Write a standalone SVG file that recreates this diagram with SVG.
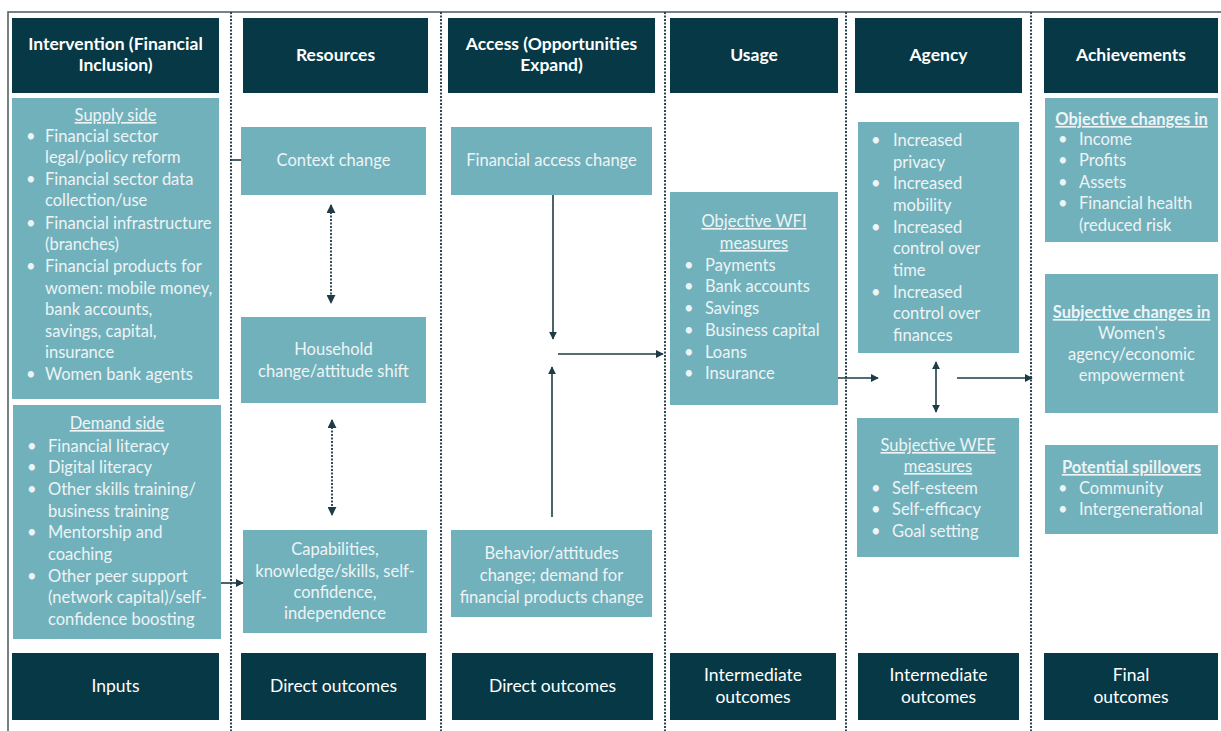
<svg xmlns="http://www.w3.org/2000/svg" width="1221" height="731" viewBox="0 0 1221 731">
<style>
.hd{fill:#063845}
.lt{fill:#71b1bc}
.ht{font-family:Lato,"Liberation Sans",sans-serif;font-size:17.5px;font-weight:bold;fill:#ffffff;text-anchor:middle}
.bt{font-family:Lato,"Liberation Sans",sans-serif;font-size:17.5px;fill:#ffffff;text-anchor:middle}
.tx{font-family:Lato,"Liberation Sans",sans-serif;font-size:16.5px;fill:#eef4f5}
.c{text-anchor:middle}
.u{text-decoration:underline}
.b{font-weight:bold}
.sep{stroke:#2c4651;stroke-width:2;stroke-dasharray:2 1.5;fill:none}
.ar{stroke:#1e3b46;stroke-width:1.6;fill:none}
.dar{stroke:#1e3b46;stroke-width:1.8;stroke-dasharray:2 1.5;fill:none}
</style>
<defs>
<marker id="ah" viewBox="0 0 10 10" refX="9" refY="5" markerWidth="5" markerHeight="5" orient="auto-start-reverse">
<path d="M0,0 L10,5 L0,10 z" fill="#1e3b46"/>
</marker>
</defs>

<g id="frame">
<path d="M8,731 V12 H1221" stroke="#4b5a60" stroke-width="1.5" fill="none"/>
<line class="sep" x1="231" y1="12" x2="231" y2="731"/>
<line class="sep" x1="441" y1="12" x2="441" y2="731"/>
<line class="sep" x1="665" y1="12" x2="665" y2="731"/>
<line class="sep" x1="846" y1="12" x2="846" y2="731"/>
<line class="sep" x1="1031" y1="12" x2="1031" y2="731"/>
</g>

<g id="headers">
<g id="h-intervention"><rect class="hd" x="12" y="18" width="207" height="75"/><text class="ht" x="115.5" y="50">Intervention (Financial</text><text class="ht" x="115.5" y="71">Inclusion)</text></g>
<g id="h-resources"><rect class="hd" x="243" y="18" width="185" height="75"/><text class="ht" x="335.5" y="61">Resources</text></g>
<g id="h-access"><rect class="hd" x="448" y="18" width="207" height="75"/><text class="ht" x="551.5" y="50">Access (Opportunities</text><text class="ht" x="551.5" y="71">Expand)</text></g>
<g id="h-usage"><rect class="hd" x="670" y="18" width="168" height="75"/><text class="ht" x="754" y="61">Usage</text></g>
<g id="h-agency"><rect class="hd" x="855" y="18" width="167" height="75"/><text class="ht" x="938.5" y="61">Agency</text></g>
<g id="h-achievements"><rect class="hd" x="1044" y="18" width="174" height="75"/><text class="ht" x="1131" y="61">Achievements</text></g>
</g>

<g id="footers">
<g id="f-inputs"><rect class="hd" x="12" y="653" width="207" height="67"/><text class="bt" x="115.5" y="692">Inputs</text></g>
<g id="f-direct1"><rect class="hd" x="241" y="653" width="185" height="67"/><text class="bt" x="333.5" y="692">Direct outcomes</text></g>
<g id="f-direct2"><rect class="hd" x="452" y="653" width="201" height="67"/><text class="bt" x="552.5" y="692">Direct outcomes</text></g>
<g id="f-inter1"><rect class="hd" x="670" y="653" width="166" height="67"/><text class="bt" x="753" y="681">Intermediate</text><text class="bt" x="753" y="703">outcomes</text></g>
<g id="f-inter2"><rect class="hd" x="858" y="653" width="161" height="67"/><text class="bt" x="938.5" y="681">Intermediate</text><text class="bt" x="938.5" y="703">outcomes</text></g>
<g id="f-final"><rect class="hd" x="1044" y="653" width="174" height="67"/><text class="bt" x="1131" y="681">Final</text><text class="bt" x="1131" y="703">outcomes</text></g>
</g>

<g id="supply">
<rect class="lt" x="12" y="98" width="207" height="301"/>
<text class="tx c u" x="115.5" y="121">Supply side</text>
<g class="tx">
<text x="26" y="142">•</text><text x="45" y="142">Financial sector</text>
<text x="45" y="163">legal/policy reform</text>
<text x="26" y="185">•</text><text x="45" y="185">Financial sector data</text>
<text x="45" y="206">collection/use</text>
<text x="26" y="229">•</text><text x="45" y="229">Financial infrastructure</text>
<text x="45" y="250">(branches)</text>
<text x="26" y="272">•</text><text x="45" y="272">Financial products for</text>
<text x="45" y="294">women: mobile money,</text>
<text x="45" y="315">bank accounts,</text>
<text x="45" y="337">savings, capital,</text>
<text x="45" y="358">insurance</text>
<text x="26" y="380">•</text><text x="45" y="380">Women bank agents</text>
</g>
</g>

<g id="demand">
<rect class="lt" x="13" y="405" width="208" height="234"/>
<text class="tx c u" x="117" y="429">Demand side</text>
<g class="tx">
<text x="27" y="452">•</text><text x="48" y="452">Financial literacy</text>
<text x="27" y="473">•</text><text x="48" y="473">Digital literacy</text>
<text x="27" y="495">•</text><text x="48" y="495">Other skills training/</text>
<text x="48" y="517">business training</text>
<text x="27" y="538">•</text><text x="48" y="538">Mentorship and</text>
<text x="48" y="560">coaching</text>
<text x="27" y="582">•</text><text x="48" y="582">Other peer support</text>
<text x="48" y="603">(network capital)/self-</text>
<text x="48" y="625">confidence boosting</text>
</g>
</g>

<g id="context">
<rect class="lt" x="241" y="127" width="185" height="68"/>
<text class="tx c" x="333.5" y="166">Context change</text>
</g>
<g id="household">
<rect class="lt" x="241" y="317" width="185" height="86"/>
<text class="tx c" x="333.5" y="355">Household</text>
<text class="tx c" x="333.5" y="377">change/attitude shift</text>
</g>
<g id="capabilities">
<rect class="lt" x="243" y="530" width="184" height="103"/>
<text class="tx c" x="335" y="555">Capabilities,</text>
<text class="tx c" x="335" y="577">knowledge/skills, self-</text>
<text class="tx c" x="335" y="598">confidence,</text>
<text class="tx c" x="335" y="619">independence</text>
</g>

<g id="finaccess">
<rect class="lt" x="451" y="127" width="201" height="68"/>
<text class="tx c" x="551.5" y="166">Financial access change</text>
</g>
<g id="behavior">
<rect class="lt" x="451" y="530" width="201" height="87"/>
<text class="tx c" x="551.5" y="559">Behavior/attitudes</text>
<text class="tx c" x="551.5" y="581">change; demand for</text>
<text class="tx c" x="551.5" y="603">financial products change</text>
</g>

<g id="wfi">
<rect class="lt" x="670" y="192" width="168" height="213"/>
<text class="tx c u" x="754" y="227">Objective WFI</text>
<text class="tx c u" x="754" y="249">measures</text>
<g class="tx">
<text x="684" y="271">•</text><text x="705" y="271">Payments</text>
<text x="684" y="292">•</text><text x="705" y="292">Bank accounts</text>
<text x="684" y="314">•</text><text x="705" y="314">Savings</text>
<text x="684" y="336">•</text><text x="705" y="336">Business capital</text>
<text x="684" y="358">•</text><text x="705" y="358">Loans</text>
<text x="684" y="379">•</text><text x="705" y="379">Insurance</text>
</g>
</g>

<g id="agency">
<rect class="lt" x="858" y="122" width="161" height="231"/>
<g class="tx">
<text x="871" y="146">•</text><text x="893" y="146">Increased</text>
<text x="893" y="168">privacy</text>
<text x="871" y="189">•</text><text x="893" y="189">Increased</text>
<text x="893" y="211">mobility</text>
<text x="871" y="233">•</text><text x="893" y="233">Increased</text>
<text x="893" y="254">control over</text>
<text x="893" y="276">time</text>
<text x="871" y="298">•</text><text x="893" y="298">Increased</text>
<text x="893" y="319">control over</text>
<text x="893" y="341">finances</text>
</g>
</g>

<g id="wee">
<rect class="lt" x="857" y="418" width="162" height="139"/>
<text class="tx c u" x="938" y="451">Subjective WEE</text>
<text class="tx c u" x="938" y="472">measures </text>
<g class="tx">
<text x="871" y="494">•</text><text x="892" y="494">Self-esteem</text>
<text x="871" y="515">•</text><text x="892" y="515">Self-efficacy</text>
<text x="871" y="537">•</text><text x="892" y="537">Goal setting</text>
</g>
</g>

<g id="objchanges">
<rect class="lt" x="1045" y="98" width="173" height="144"/>
<text class="tx c u b" x="1131.5" y="125">Objective changes in</text>
<g class="tx">
<text x="1058" y="145">•</text><text x="1079" y="145">Income</text>
<text x="1058" y="166">•</text><text x="1079" y="166">Profits</text>
<text x="1058" y="188">•</text><text x="1079" y="188">Assets</text>
<text x="1058" y="209">•</text><text x="1079" y="209">Financial health</text>
<text x="1079" y="231">(reduced risk</text>
</g>
</g>

<g id="subjchanges">
<rect class="lt" x="1045" y="274" width="173" height="139"/>
<text class="tx c u b" x="1131.5" y="318">Subjective changes in</text>
<text class="tx c" x="1131.5" y="339">Women's</text>
<text class="tx c" x="1131.5" y="360">agency/economic</text>
<text class="tx c" x="1131.5" y="381">empowerment</text>
</g>

<g id="spillovers">
<rect class="lt" x="1045" y="445" width="173" height="89"/>
<text class="tx c u b" x="1131.5" y="473">Potential spillovers</text>
<g class="tx">
<text x="1058" y="494">•</text><text x="1079" y="494">Community</text>
<text x="1058" y="515">•</text><text x="1079" y="515">Intergenerational</text>
</g>
</g>

<g id="connectors">
<line class="ar" x1="231" y1="160" x2="241" y2="160"/>
<line class="ar" x1="221" y1="583" x2="243" y2="583" marker-end="url(#ah)"/>
<line class="dar" x1="331" y1="205" x2="331" y2="303" marker-start="url(#ah)" marker-end="url(#ah)"/>
<line class="dar" x1="332" y1="420" x2="332" y2="515" marker-start="url(#ah)" marker-end="url(#ah)"/>
<line class="ar" x1="553" y1="195" x2="553" y2="339" marker-end="url(#ah)"/>
<line class="ar" x1="552" y1="517" x2="552" y2="367" marker-end="url(#ah)"/>
<line class="ar" x1="558" y1="354" x2="663" y2="354" marker-end="url(#ah)"/>
<line class="ar" x1="838" y1="378" x2="878" y2="378" marker-end="url(#ah)"/>
<line class="ar" x1="936" y1="362" x2="936" y2="412" marker-start="url(#ah)" marker-end="url(#ah)"/>
<line class="ar" x1="957" y1="378" x2="1032" y2="378" marker-end="url(#ah)"/>
</g>
</svg>
